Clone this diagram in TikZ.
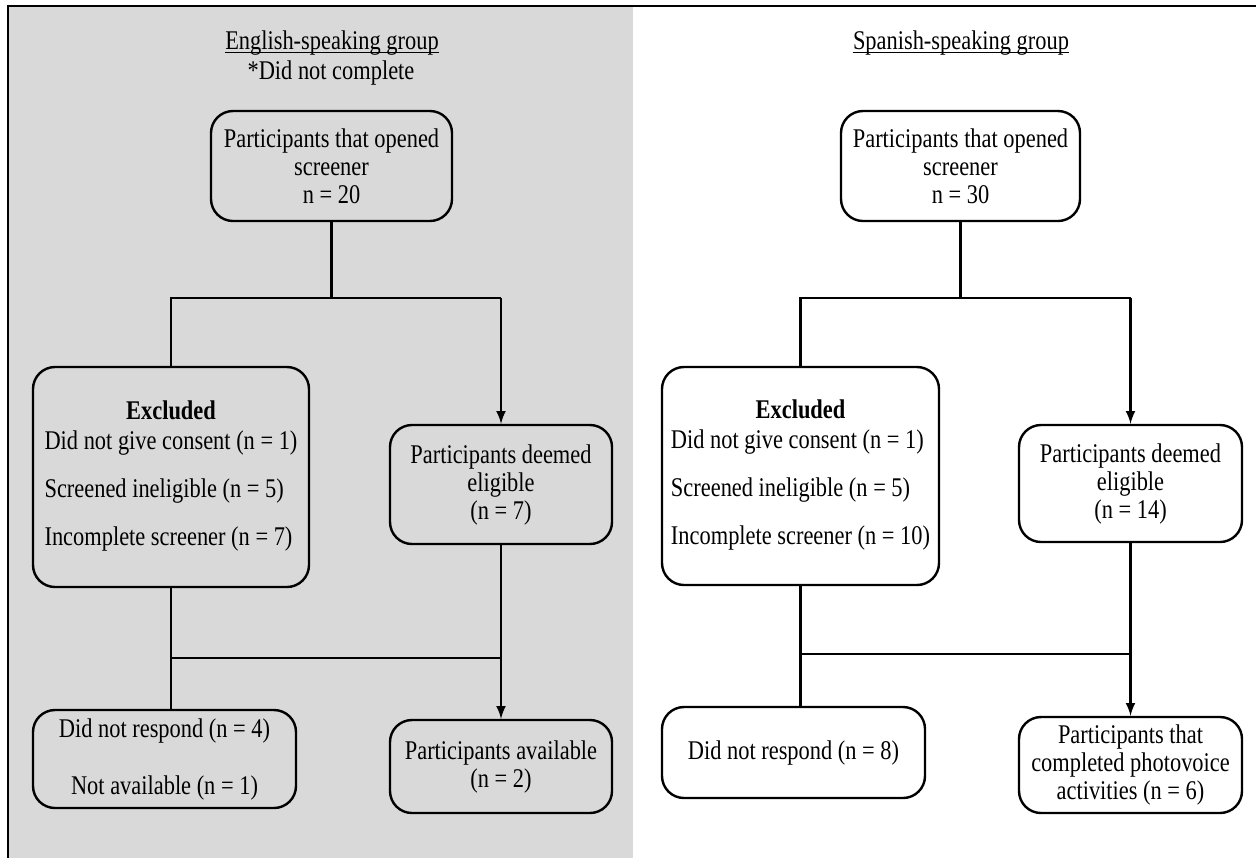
\documentclass[tikz,border=0pt]{standalone}
\usepackage{fontspec}
\setmainfont{Liberation Serif}[FakeStretch=0.83]
\definecolor{panelgray}{RGB}{217,217,217}
\newcommand{\exclist}[3]{\begin{tabular}{@{}l@{}}
    \multicolumn{1}{@{}c@{}}{\textbf{Excluded}}\\[1pt]
    Did not give consent (n = #1)\\[10pt]
    Screened ineligible (n = #2)\\[10pt]
    Incomplete screener (n = #3)
    \end{tabular}}
\begin{document}
\begin{tikzpicture}[x=0.5pt,y=-0.5pt,
        txt/.style={font=\fontsize{13.5pt}{14pt}\selectfont},
        head/.style={txt,inner sep=0pt},
        box/.style={txt,draw,line width=1.2pt,rounded corners=11pt,inner sep=0pt,align=center},
        conn/.style={line width=1.2pt}]
        \useasboundingbox (0,0) rectangle (1256,858);
        %% frame and shaded panel
        \fill[panelgray] (8,6) rectangle (633,858);
        \draw[line width=1pt] (8,858) -- (8,6) -- (1256,6);
        %% English-speaking group
        \node[head] (tit1) at (332,43) {English-speaking group};
        \draw[line width=0.6pt] ([yshift=-1.6pt]tit1.base west) -- ([yshift=-1.6pt]tit1.base east);
        \node[head] (note1) at (331,73) {*Did not complete};
        \node[box,minimum width=120.5pt,minimum height=55pt] (open1) at (331.5,166)
            {Participants that opened\\screener\\n = 20};
        \node[box,minimum width=138pt,minimum height=110pt] (exc1) at (171,477) {\exclist{1}{5}{7}};
        \node[box,minimum width=111pt,minimum height=59.5pt] (elig1) at (501,484.5)
            {Participants deemed\\eligible\\(n = 7)};
        \node[box,minimum width=131.5pt,minimum height=49pt] (dnr1) at (164.5,759)
            {Did not respond (n = 4)\\[14.5pt]Not available (n = 1)};
        \node[box,minimum width=111pt,minimum height=46.5pt] (avail1) at (501,766.5)
            {Participants available\\(n = 2)};
        \coordinate (bar1) at (331.5,298);
        \coordinate (low1) at (0,658);
        \draw[conn] (open1.south) -- (bar1);
        \draw[conn] (exc1.north) -- (exc1.north |- bar1) -- (elig1.north |- bar1);
        \draw[conn,-latex] (elig1.north |- bar1) -- (elig1.north);
        \draw[conn] (exc1.south) -- (exc1.south |- dnr1.north);
        \draw[conn] (exc1.south |- low1) -- (elig1.south |- low1);
        \draw[conn,-latex] (elig1.south) -- (avail1.north);
        %% Spanish-speaking group
        \node[head] (tit2) at (961,43) {Spanish-speaking group};
        \draw[line width=0.6pt] ([yshift=-1.6pt]tit2.base west) -- ([yshift=-1.6pt]tit2.base east);
        \node[box,minimum width=119.5pt,minimum height=55pt] (open2) at (960.5,166)
            {Participants that opened\\screener\\n = 30};
        \node[box,minimum width=138.5pt,minimum height=109pt] (exc2) at (800.5,476) {\exclist{1}{5}{10}};
        \node[box,minimum width=111.5pt,minimum height=58.5pt] (elig2) at (1130.5,483.5)
            {Participants deemed\\eligible\\(n = 14)};
        \node[box,minimum width=131.5pt,minimum height=45.5pt] (dnr2) at (793.5,752.5)
            {Did not respond (n = 8)};
        \node[box,minimum width=111.5pt,minimum height=48pt] (done2) at (1130.5,765)
            {Participants that\\completed photovoice\\activities (n = 6)};
        \coordinate (bar2) at (960.5,298);
        \coordinate (low2) at (0,654);
        \draw[conn] (open2.south) -- (bar2);
        \draw[conn] (exc2.north) -- (exc2.north |- bar2) -- (elig2.north |- bar2);
        \draw[conn,-latex] (elig2.north |- bar2) -- (elig2.north);
        \draw[conn] (exc2.south) -- (exc2.south |- dnr2.north);
        \draw[conn] (exc2.south |- low2) -- (elig2.south |- low2);
        \draw[conn,-latex] (elig2.south) -- (done2.north);
    \end{tikzpicture}
\end{document}
